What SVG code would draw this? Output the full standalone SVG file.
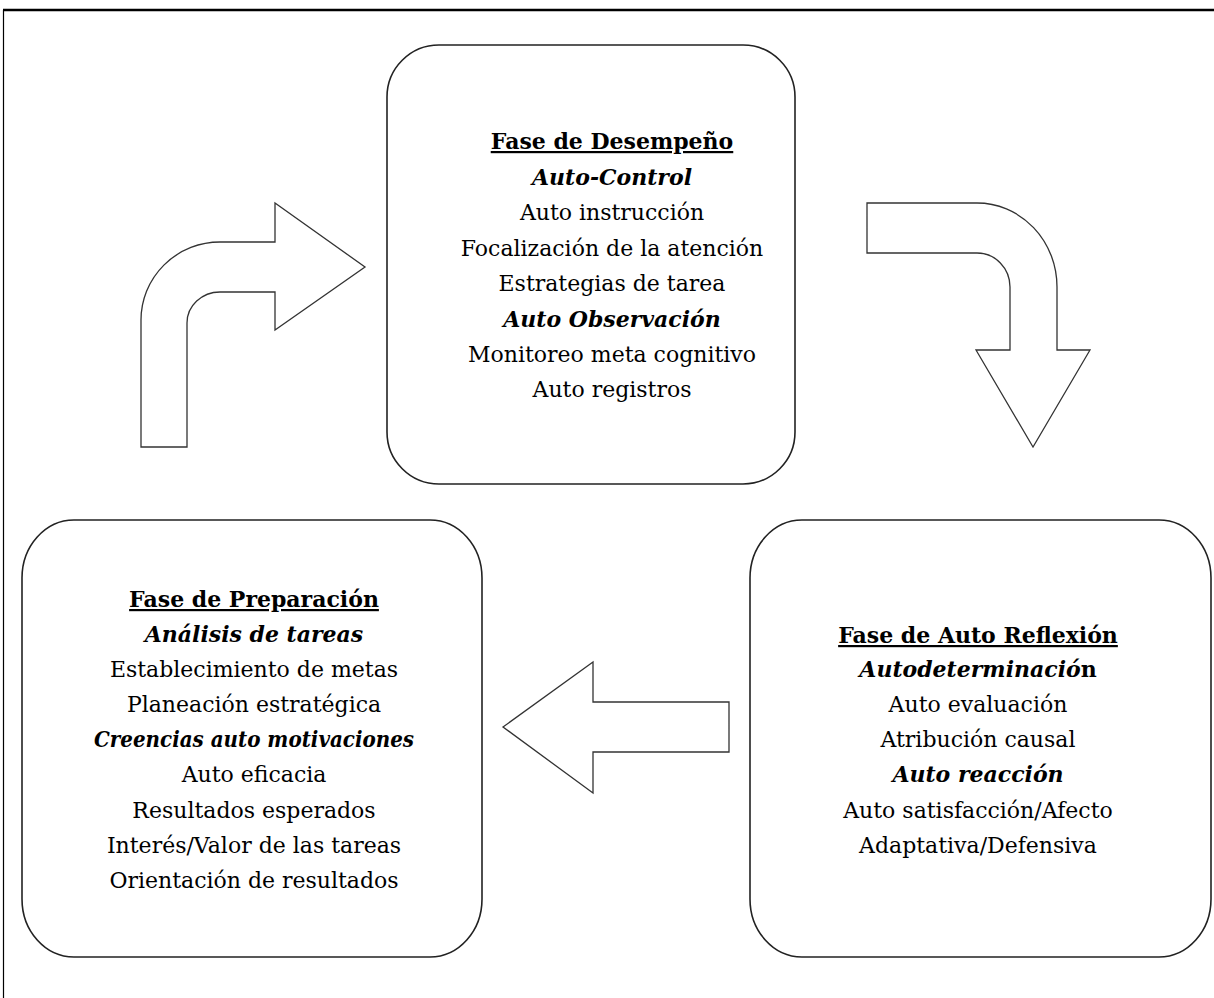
<svg xmlns="http://www.w3.org/2000/svg" width="1214" height="998" viewBox="0 0 1214 998">
  <style>
    .box { fill: #ffffff; stroke: #222222; stroke-width: 1.6; }
    .arrow { fill: #ffffff; stroke: #333333; stroke-width: 1.3; stroke-linejoin: miter; }
    text { font-family: "DejaVu Serif", "Liberation Serif", serif; font-size: 22px; fill: #000000; text-anchor: middle; }
    .head { font-weight: bold; text-decoration: underline; }
    .sub { font-weight: bold; font-style: italic; }
  </style>

  <rect x="0" y="0" width="1214" height="998" fill="#ffffff"/>

  <!-- outer frame -->
  <g id="frame">
    <line x1="3" y1="10" x2="1214" y2="10" stroke="#000000" stroke-width="2.5"/>
    <line x1="3.5" y1="10" x2="3.5" y2="998" stroke="#000000" stroke-width="1.2"/>
  </g>

  <!-- cycle arrows -->
  <g id="connectors">
    <path class="arrow" d="M141,447 L141,320 A79,78 0 0 1 220,242 L275,242 L275,203 L365,267 L275,330 L275,292 L220,292 A33,31 0 0 0 187,323 L187,447 Z"/>
    <path class="arrow" d="M867,203 L977,203 A80,84 0 0 1 1057,287 L1057,350 L1090,350 L1033,447 L976,350 L1010,350 L1010,287 A33,34 0 0 0 977,253 L867,253 Z"/>
    <path class="arrow" d="M503,727 L593,662 L593,702 L729,702 L729,752 L593,752 L593,793 Z"/>
  </g>

  <!-- performance phase -->
  <g id="fase-desempeno">
    <rect class="box" x="387" y="45" width="408" height="439" rx="52" ry="52"/>
    <text x="612" y="149" class="head">Fase de Desempeño</text>
    <text x="612" y="185" class="sub">Auto-Control</text>
    <text x="612" y="220">Auto instrucción</text>
    <text x="612" y="256">Focalización de la atención</text>
    <text x="612" y="291">Estrategias de tarea</text>
    <text x="612" y="327" class="sub">Auto Observación</text>
    <text x="612" y="362">Monitoreo meta cognitivo</text>
    <text x="612" y="397">Auto registros</text>
  </g>

  <!-- preparation phase -->
  <g id="fase-preparacion">
    <rect class="box" x="22" y="520" width="460" height="437" rx="52" ry="58"/>
    <text x="254" y="607" class="head">Fase de Preparación</text>
    <text x="254" y="642" class="sub">Análisis de tareas</text>
    <text x="254" y="677">Establecimiento de metas</text>
    <text x="254" y="712">Planeación estratégica</text>
    <text x="254" y="747" class="sub" textLength="320" lengthAdjust="spacingAndGlyphs">Creencias auto motivaciones</text>
    <text x="254" y="782">Auto eficacia</text>
    <text x="254" y="818">Resultados esperados</text>
    <text x="254" y="853">Interés/Valor de las tareas</text>
    <text x="254" y="888">Orientación de resultados</text>
  </g>

  <!-- self-reflection phase -->
  <g id="fase-autoreflexion">
    <rect class="box" x="750" y="520" width="461" height="437" rx="52" ry="58"/>
    <text x="978" y="643" class="head">Fase de Auto Reflexión</text>
    <text x="978" y="677"><tspan class="sub">Autodeterminació</tspan><tspan font-weight="bold">n</tspan></text>
    <text x="978" y="712">Auto evaluación</text>
    <text x="978" y="747">Atribución causal</text>
    <text x="978" y="782" class="sub">Auto reacción</text>
    <text x="978" y="818">Auto satisfacción/Afecto</text>
    <text x="978" y="853">Adaptativa/Defensiva</text>
  </g>
</svg>
